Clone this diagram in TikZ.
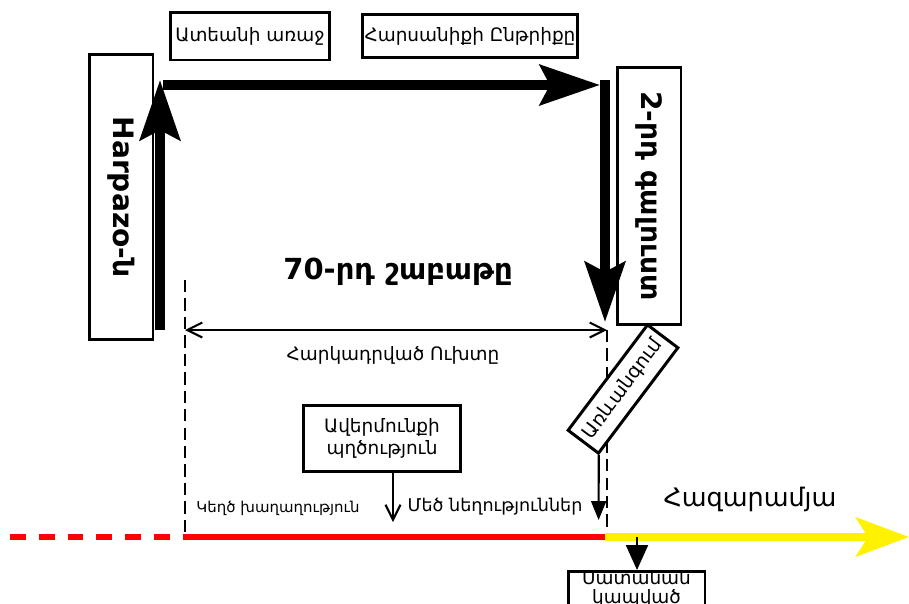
\documentclass[tikz,border=0pt]{standalone}
\usepackage{fontspec}
\setmainfont{DejaVu Sans}
\usetikzlibrary{positioning, arrows.meta, calc}

\begin{document}
\begin{tikzpicture}[
    x=0.02cm, y=-0.02cm,
    box/.style={rectangle, draw=black, line width=1.7pt, fill=white, inner sep=1pt, font=\fontsize{10.5}{12}\selectfont},
    tallbox/.style={box, rotate=-90, minimum height=1.28cm, font=\bfseries\fontsize{16}{18}\selectfont},
    bigarrow/.style={line width=5.7pt, -{Stealth[length=1.2cm, width=0.8cm, inset=0.2cm]}},
    thinarrow/.style={line width=1.2pt, -{Straight Barb[length=0.3cm, width=0.3cm]}},
    guide/.style={line width=1.2pt, dash pattern=on 7pt off 3.5pt},
    redline/.style={red, line width=3.4pt},
    yellowarrow/.style={yellow, line width=4.5pt, -{Stealth[length=1.06cm, width=0.78cm, inset=0.24cm]}}
]
\useasboundingbox (0,0) rectangle (909,603);

% Top boxes and side columns
\node[box, minimum width=3.2cm, minimum height=0.96cm] (court) at (250,36) {Ատեանի առաջ};
\node[box, minimum width=4.12cm, minimum height=0.86cm] (supper) at (470,36) {Հարսանիքի Ընթրիքը};
\node[tallbox, minimum width=5.7cm] (harpazo) at (121,197) {Harpazo-ն};
\node[tallbox, minimum width=5.14cm] (second) at (649,196) {2-րդ գալուստ};

\coordinate (upfrom) at (160,330);
\coordinate (upto) at (160,80);
\coordinate (acrossfrom) at (163,85);
\coordinate (acrossto) at (600,85);
\coordinate (downfrom) at (605,80);
\coordinate (downto) at (605,322);

\draw[bigarrow] (upfrom) -- (upto);
\draw[bigarrow] (acrossfrom) -- (acrossto);
\draw[bigarrow] (downfrom) -- (downto);

\node[font=\bfseries\fontsize{16.5}{18}\selectfont] (week) at (398,272) {70-րդ շաբաթը};

% Covenant span
\coordinate (spanleft) at (185,330);
\coordinate (spanright) at (607,330);
\coordinate (lefttop) at (185,280);
\coordinate (leftfoot) at (185,540);
\coordinate (rightfoot) at (607,540);
\draw[guide] (lefttop) -- (leftfoot);
\draw[guide] (spanright) -- (rightfoot);
\draw[line width=1.2pt, {Straight Barb[length=0.3cm, width=0.3cm]}-{Straight Barb[length=0.3cm, width=0.3cm]}] (spanleft) -- (spanright);
\node[font=\fontsize{10.5}{12}\selectfont] (covenant) at (393,355) {Հարկադրված Ուխտը};

\node[box, rotate=53, minimum width=2.64cm, minimum height=0.76cm, font=\fontsize{11}{12}\selectfont] (rapture) at (623,389) {Առևանգում};
\node[box, minimum width=3.14cm, minimum height=1.32cm, align=center, font=\fontsize{10.5}{12.5}\selectfont] (abomination) at (382,438) {Ավերմունքի\\պղծություն};

\node[font=\fontsize{8.5}{10}\selectfont] (falsepeace) at (278,508) {Կեղծ խաղաղություն};
\node[font=\fontsize{10}{12}\selectfont] (tribulation) at (495,507) {Մեծ նեղություններ};
\node[font=\fontsize{14.5}{16}\selectfont] (millennium) at (750,499) {Հազարամյա};

\coordinate (abomfoot) at (393,522);
\coordinate (rapturefoot) at (598.6,520);
\draw[thinarrow] (abomination.south -| abomfoot) -- (abomfoot);
\draw[line width=1.2pt, -{Triangle[length=0.38cm, width=0.3cm]}] (rapture.south west) -- (rapturefoot);

% Timeline
\coordinate (west) at (10,537);
\coordinate (start) at (185,537);
\coordinate (middle) at (605,537);
\coordinate (east) at (909,537);
\draw[redline, dash pattern=on 9pt off 7.4pt] (west) -- (start);
\draw[redline] (start) -- (middle);
\draw[yellowarrow] (middle) -- (east);

\node[box, anchor=north, minimum width=2.74cm, minimum height=1.2cm, inner sep=0pt, text height=4.5pt, align=center, font=\fontsize{10.5}{11}\selectfont] (satan) at (636.5,570) {Սատանան\\կապված};
\coordinate (bindtop) at (637,537);
\draw[line width=1.2pt, -{Triangle[length=0.5cm, width=0.44cm]}] (bindtop) -- (satan.north -| bindtop);

\end{tikzpicture}
\end{document}
